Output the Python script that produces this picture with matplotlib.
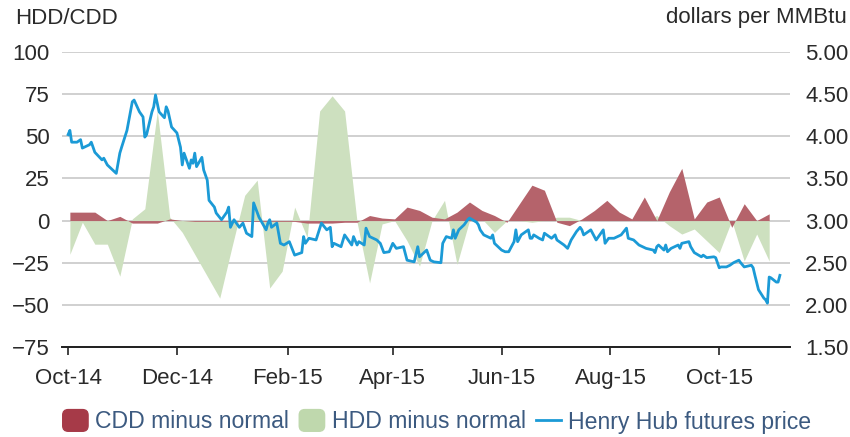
import numpy as np
import pandas as pd
import matplotlib as mpl
mpl.use("Agg")
import matplotlib.pyplot as plt
import matplotlib.dates as mdates
from matplotlib.patches import FancyBboxPatch, Patch
from matplotlib.lines import Line2D
from matplotlib.legend_handler import HandlerPatch

plt.rcParams['font.family'] = ['Liberation Sans', 'DejaVu Sans']

# weekly degree days vs normal
week_start = '2014-10-02'
hdd = [-20, -1, -14, -14, -33, 1, 7, 65, 2, -7, -20, -33, -46, -15, 15, 24, -40, -30, 8, -10,
       65, 74, 65, -1, -37, -2, 0, -12, -27, 0, 12, -26, 0, 1, -7, 0, 0, -1, 0, 2,
       2, 0, 0, 0, 0, 0, 0, 3, -3, -8, -5, -12, -19, 0, -24, -8, -24]
cdd = [5, 5, 5, 0, 2.5, -1.5, -1.5, -1.5, 1, 0, -0.5, -0.5, -0.5, -0.5, -0.5, -0.5, -0.5, -0.5, -0.5, -1.5,
       -1.5, -1.5, -1, -1, 3, 1.5, 1, 8, 6, 2, 1, 5, 11, 6, 3, -1, 10, 21, 18, -1,
       -3, 1, 6, 12, 5, 1, 14, 0, 17, 31, 1, 11, 14, -4, 10, 0, 4]

# Henry Hub front-month futures, $/MMBtu
price_dates = [
    '2014-10-01', '2014-10-02', '2014-10-03', '2014-10-06', '2014-10-08', '2014-10-09', '2014-10-13',
    '2014-10-14', '2014-10-16', '2014-10-20', '2014-10-21', '2014-10-23', '2014-10-27', '2014-10-28',
    '2014-10-30', '2014-10-31', '2014-11-03', '2014-11-06', '2014-11-07', '2014-11-10', '2014-11-12',
    '2014-11-13', '2014-11-14', '2014-11-17', '2014-11-18', '2014-11-19', '2014-11-20', '2014-11-21',
    '2014-11-24', '2014-11-25', '2014-11-26', '2014-11-28', '2014-12-01', '2014-12-03', '2014-12-04',
    '2014-12-05', '2014-12-08', '2014-12-09', '2014-12-10', '2014-12-11', '2014-12-12', '2014-12-15',
    '2014-12-16', '2014-12-18', '2014-12-19', '2014-12-22', '2014-12-23', '2014-12-26', '2014-12-29',
    '2014-12-30', '2014-12-31', '2015-01-02', '2015-01-05', '2015-01-07', '2015-01-09', '2015-01-12',
    '2015-01-13', '2015-01-16', '2015-01-20', '2015-01-21', '2015-01-22', '2015-01-23', '2015-01-26',
    '2015-01-28', '2015-01-30', '2015-02-02', '2015-02-05', '2015-02-09', '2015-02-10', '2015-02-11',
    '2015-02-13', '2015-02-17', '2015-02-20', '2015-02-23', '2015-02-25', '2015-02-26', '2015-02-27',
    '2015-03-03', '2015-03-05', '2015-03-09', '2015-03-10', '2015-03-12', '2015-03-13', '2015-03-16',
    '2015-03-17', '2015-03-19', '2015-03-23', '2015-03-25', '2015-03-27', '2015-03-30', '2015-04-01',
    '2015-04-03', '2015-04-07', '2015-04-09', '2015-04-13', '2015-04-15', '2015-04-16', '2015-04-20',
    '2015-04-22', '2015-04-24', '2015-04-28', '2015-04-29', '2015-05-01', '2015-05-04', '2015-05-05',
    '2015-05-06', '2015-05-08', '2015-05-11', '2015-05-13', '2015-05-14', '2015-05-18', '2015-05-19',
    '2015-05-20', '2015-05-22', '2015-05-26', '2015-05-27', '2015-05-28', '2015-06-01', '2015-06-03',
    '2015-06-05', '2015-06-08', '2015-06-09', '2015-06-10', '2015-06-12', '2015-06-16', '2015-06-17',
    '2015-06-18', '2015-06-19', '2015-06-22', '2015-06-24', '2015-06-25', '2015-06-29', '2015-07-01',
    '2015-07-02', '2015-07-06', '2015-07-08', '2015-07-10', '2015-07-13', '2015-07-15', '2015-07-16',
    '2015-07-17', '2015-07-21', '2015-07-22', '2015-07-24', '2015-07-28', '2015-07-29', '2015-07-31',
    '2015-08-03', '2015-08-05', '2015-08-07', '2015-08-10', '2015-08-11', '2015-08-14', '2015-08-17',
    '2015-08-19', '2015-08-21', '2015-08-25', '2015-08-26', '2015-08-27', '2015-08-28', '2015-08-31',
    '2015-09-01', '2015-09-02', '2015-09-04', '2015-09-08', '2015-09-09', '2015-09-10', '2015-09-14',
    '2015-09-15', '2015-09-17', '2015-09-21', '2015-09-22', '2015-09-24', '2015-09-28', '2015-09-29',
    '2015-10-01', '2015-10-02', '2015-10-05', '2015-10-07', '2015-10-09', '2015-10-12', '2015-10-13',
    '2015-10-15', '2015-10-19', '2015-10-20', '2015-10-21', '2015-10-23', '2015-10-26', '2015-10-27',
    '2015-10-28', '2015-10-29', '2015-10-30', '2015-11-02', '2015-11-03', '2015-11-04']
price_values = [
    4.02, 4.07, 3.93, 3.93, 3.96, 3.86, 3.90,
    3.93, 3.81, 3.72, 3.74, 3.66, 3.58, 3.56,
    3.80, 3.87, 4.07, 4.41, 4.43, 4.29, 4.23,
    3.99, 4.02, 4.29, 4.35, 4.49, 4.39, 4.29,
    4.22, 4.35, 4.30, 4.11, 4.04, 3.87, 3.66,
    3.80, 3.62, 3.72, 3.68, 3.80, 3.64, 3.75,
    3.60, 3.48, 3.24, 3.16, 3.09, 3.01, 3.10,
    3.16, 2.92, 3.01, 2.92, 2.97, 2.85, 2.81,
    3.21, 3.04, 2.89, 2.97, 3.01, 2.92, 2.97,
    2.73, 2.71, 2.75, 2.59, 2.62, 2.81, 2.73,
    2.79, 2.77, 2.97, 2.89, 2.92, 2.69, 2.73,
    2.69, 2.83, 2.71, 2.81, 2.71, 2.75, 2.71,
    2.91, 2.81, 2.77, 2.73, 2.62, 2.63, 2.73,
    2.67, 2.69, 2.53, 2.51, 2.69, 2.57, 2.65,
    2.53, 2.51, 2.50, 2.73, 2.81, 2.79, 2.89,
    2.79, 2.89, 2.95, 3.01, 3.03, 2.98, 2.95,
    2.89, 2.83, 2.79, 2.83, 2.73, 2.65, 2.63,
    2.63, 2.75, 2.89, 2.75, 2.83, 2.89, 2.79,
    2.79, 2.83, 2.79, 2.77, 2.85, 2.79, 2.83,
    2.77, 2.71, 2.67, 2.77, 2.87, 2.92, 2.89,
    2.83, 2.89, 2.85, 2.77, 2.89, 2.73, 2.79,
    2.79, 2.81, 2.83, 2.91, 2.79, 2.77, 2.71,
    2.69, 2.67, 2.65, 2.62, 2.69, 2.71, 2.65,
    2.71, 2.63, 2.67, 2.71, 2.67, 2.73, 2.75,
    2.69, 2.62, 2.57, 2.59, 2.56, 2.57, 2.56,
    2.44, 2.45, 2.45, 2.47, 2.50, 2.53, 2.50,
    2.45, 2.47, 2.44, 2.35, 2.18, 2.08, 2.06,
    2.02, 2.33, 2.32, 2.27, 2.27, 2.35]

tick_dates = ['2014-10-01', '2014-12-01', '2015-02-01', '2015-04-01', '2015-06-01', '2015-08-01', '2015-10-01']

red = '#b5636b'
green = '#cde0bf'
blue = '#1b9ad6'
text_col = '#2a2a2a'
legend_col = '#3c5a80'

weeks = pd.date_range(week_start, periods=len(hdd), freq='7D')
pdates = pd.to_datetime(price_dates)

fig = plt.figure(figsize=(8.5, 4.37), dpi=100)
ax = fig.add_axes([62 / 850, 1 - 347 / 437, 728 / 850, 295 / 437])
ax2 = ax.twinx()

ax.fill_between(weeks, 0, hdd, color=green, lw=0, zorder=2)
ax.fill_between(weeks, 0, cdd, color=red, lw=0, zorder=3)
ax2.plot(pdates, price_values, color=blue, lw=2.0, solid_joinstyle='round')

ax.set_ylim(-75, 100)
ax.set_yticks(np.arange(-75, 101, 25))
ax2.set_ylim(1.5, 5.0)
ax2.set_yticks(np.arange(1.5, 5.01, 0.5))
ax2.yaxis.set_major_formatter(mpl.ticker.FormatStrFormatter('%.2f'))
ax.set_xlim(pd.Timestamp('2014-09-27 14:00'), pd.Timestamp('2015-11-09 16:00'))

ax.set_xticks(pd.to_datetime(tick_dates))
ax.xaxis.set_major_formatter(mdates.DateFormatter('%b-%y'))

ax.grid(axis='y', color='#c8c8c8', lw=1.2, zorder=0)
ax.set_axisbelow(True)
for a in (ax, ax2):
    for s in ('top', 'left', 'right'):
        a.spines[s].set_visible(False)
    a.spines['bottom'].set_color('#222222')
    a.spines['bottom'].set_linewidth(1.3)

ax.tick_params(axis='y', length=0, pad=9, labelsize=16, labelcolor=text_col)
ax2.tick_params(axis='y', length=0, pad=11, labelsize=16, labelcolor=text_col)
ax.tick_params(axis='x', direction='out', length=6, width=1.2, color='#222222',
               pad=9, labelsize=16, labelcolor=text_col)

fig.text(15 / 850, 1 - 18 / 437, 'HDD/CDD', fontsize=16, color=text_col, va='center', ha='left')
fig.text(847 / 850, 1 - 18 / 437, 'dollars per MMBtu', fontsize=16, color=text_col, va='center', ha='right')


def rounded_patch(legend, orig_handle, xdescent, ydescent, width, height, fontsize):
    return FancyBboxPatch((-xdescent, -ydescent - 2), width, height + 4,
                          boxstyle='round,pad=0,rounding_size=4')


handles = [Patch(color='#a63a48'), Patch(color='#bfd8ad'), Line2D([], [], color=blue, lw=2)]
labels = ['CDD minus normal', 'HDD minus normal', 'Henry Hub futures price']
leg = fig.legend(handles, labels, loc='center', bbox_to_anchor=(437 / 850, 1 - 422 / 437), ncol=3,
                 frameon=False, fontsize=16.6, handlelength=1.1, handletextpad=0.3, columnspacing=0.45,
                 handler_map={Patch: HandlerPatch(patch_func=rounded_patch)})
for t in leg.get_texts():
    t.set_color(legend_col)

fig.savefig('out.png', dpi=100)
